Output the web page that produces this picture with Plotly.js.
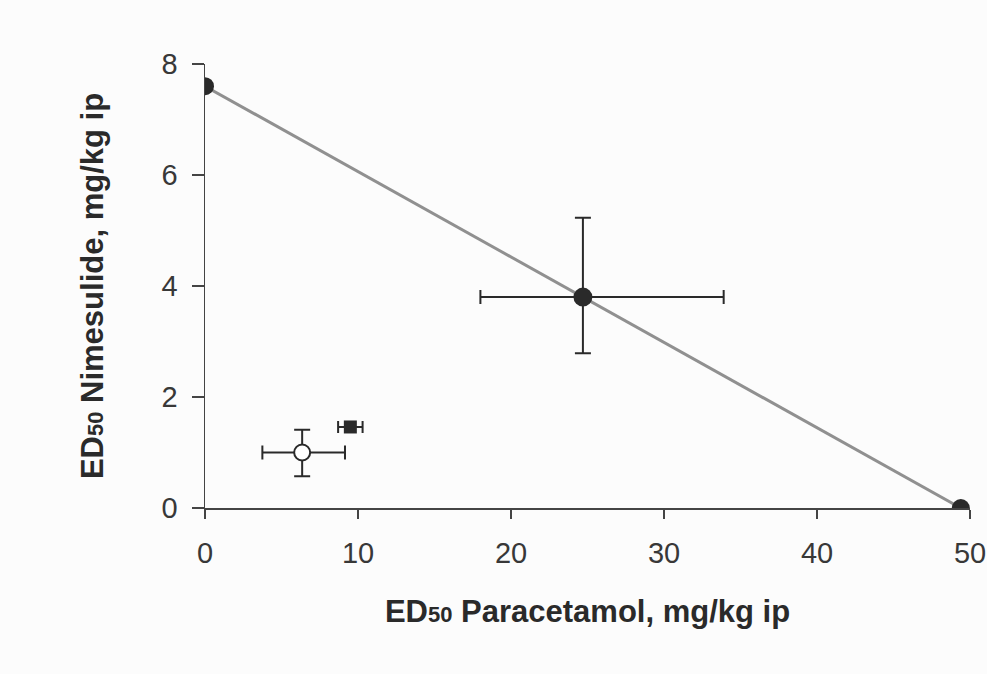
<!DOCTYPE html>
<html>
<head>
<meta charset="utf-8">
<script src="https://cdn.plot.ly/plotly-3.0.1.min.js"></script>
<style>html,body{margin:0;padding:0;background:#fcfcfc;}#chart{width:987px;height:674px;}</style>
</head>
<body>
<div id="chart"></div>
<script>
// Additivity line (single-drug ED50s)
const additiveX = [0, 49.4];
const additiveY = [7.6, 0];

// Theoretical additive ED50 point with 95% CI
const theoX = [24.7];
const theoY = [3.8];
const theoXPlus = [9.2];
const theoXMinus = [6.7];
const theoYPlus = [1.43];
const theoYMinus = [1.01];

// Experimental combination (open circle)
const expX = [6.35];
const expY = [1.0];
const expXPlus = [2.8];
const expXMinus = [2.6];
const expYPlus = [0.41];
const expYMinus = [0.43];

// Second experimental combination (filled square)
const sqX = [9.5];
const sqY = [1.46];
const sqXErr = [0.8];

const ink = '#2a2a2a';

const traces = [
  {x: additiveX, y: additiveY, mode: 'lines', type: 'scatter',
   line: {color: '#909090', width: 3}, hoverinfo: 'skip'},
  {x: additiveX, y: additiveY, mode: 'markers', type: 'scatter',
   marker: {color: ink, size: 18, symbol: 'circle'}},
  {x: theoX, y: theoY, mode: 'markers', type: 'scatter',
   marker: {color: ink, size: 19, symbol: 'circle'},
   error_x: {type: 'data', symmetric: false, array: theoXPlus, arrayminus: theoXMinus, color: ink, thickness: 2, width: 7},
   error_y: {type: 'data', symmetric: false, array: theoYPlus, arrayminus: theoYMinus, color: ink, thickness: 2, width: 8}},
  {x: expX, y: expY, mode: 'markers', type: 'scatter',
   marker: {color: '#ffffff', size: 16, symbol: 'circle', line: {color: ink, width: 2}},
   error_x: {type: 'data', symmetric: false, array: expXPlus, arrayminus: expXMinus, color: ink, thickness: 2, width: 7},
   error_y: {type: 'data', symmetric: false, array: expYPlus, arrayminus: expYMinus, color: ink, thickness: 2, width: 8}},
  {x: sqX, y: sqY, mode: 'markers', type: 'scatter',
   marker: {color: ink, size: 13, symbol: 'square'},
   error_x: {type: 'data', array: sqXErr, color: ink, thickness: 2, width: 6}}
];

const axisFont = {family: 'Liberation Sans, Arial, sans-serif', size: 29, color: '#383838'};
const titleFont = {family: 'Liberation Sans, Arial, sans-serif', size: 31, color: '#2a2a2a', weight: 'bold'};

const layout = {
  width: 987, height: 674,
  margin: {l: 205, r: 17, t: 64, b: 166},
  paper_bgcolor: '#fcfcfc', plot_bgcolor: '#fcfcfc',
  showlegend: false,
  xaxis: {
    range: [0, 50], tickvals: [0, 10, 20, 30, 40, 50], ticktext: ['0','10','20','30','40','50'],
    showline: true, linecolor: '#444', linewidth: 1.5, zeroline: false, showgrid: false,
    ticks: 'outside', ticklen: 9, tickwidth: 1.5, tickcolor: '#444', tickfont: axisFont,
    ticklabelstandoff: 10,
    title: {text: '<b>ED<span style="font-size:22px">50</span> Paracetamol, mg/kg ip</b>', font: titleFont, standoff: 32}
  },
  yaxis: {
    range: [0, 8], tickvals: [0, 2, 4, 6, 8], ticktext: ['0','2','4','6','8'],
    showline: true, linecolor: '#444', linewidth: 1.5, zeroline: false, showgrid: false,
    ticks: 'outside', ticklen: 12, tickwidth: 1.5, tickcolor: '#444', tickfont: axisFont,
    ticklabelstandoff: 8,
    title: {text: '<b>ED<span style="font-size:22px">50</span> Nimesulide, mg/kg ip</b>', font: titleFont, standoff: 48}
  }
};

Plotly.newPlot('chart', traces, layout, {displayModeBar: false, staticPlot: true});
</script>
</body>
</html>
